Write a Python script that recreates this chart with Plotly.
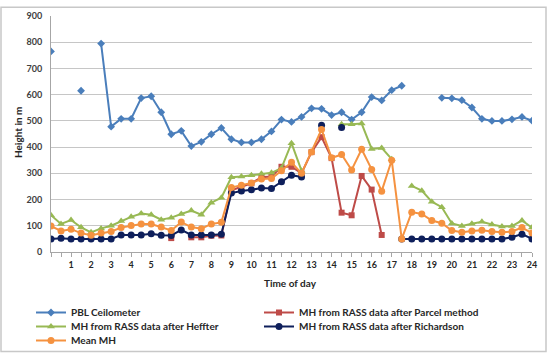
import plotly.graph_objects as go

# Time of day (half-hour steps, 0 .. 24)
hours = [i * 0.5 for i in range(49)]
tick_hours = list(range(1, 25))
tick_labels = [str(h) for h in tick_hours]
y_ticks = list(range(0, 1000, 100))

N = None
pbl_ceilometer = [765, N, N, 615, N, 795, 478, 508, 508, 587, 594, 533, 449, 462, 404, 420,
                  449, 473, 430, 418, 418, 430, 460, 505, 496, 515, 548, 546, 522, 533, 505,
                  533, 591, 578, 617, 634, N, N, N, 588, 586, 579, 551, 508, 500, 500, 506,
                  515, 501]
mh_parcel = [N, N, N, N, N, N, N, N, N, N, N, N, 53, N, 56, 56, 62, 63, 235, 248, 262, 285,
             288, 325, 325, 300, 381, 438, 358, 150, 140, 290, 238, 65, N, N, N, N, N, N,
             N, N, N, N, N, N, N, N, N]
mh_heffter = [140, 107, 122, 94, 75, 90, 100, 118, 134, 147, 142, 123, 131, 145, 158, 142,
              188, 207, 285, 288, 293, 298, 302, 320, 415, 310, N, N, N, 487, 487, 490, 393,
              397, 354, N, 252, 234, 192, 171, 109, 99, 108, 115, 105, 97, 99, 120, 93]
mh_richardson = [50, 52, 50, 50, 50, 50, 50, 65, 65, 65, 70, 64, 63, 84, 65, 65, 65, 68, 225,
                 233, 237, 244, 242, 268, 293, 286, N, 483, N, 475, N, N, N, N, N, 50, 50, 50,
                 50, 50, 50, 50, 50, 50, 50, 50, 56, 68, 50]
mean_mh = [99, 80, 87, 72, 64, 72, 78, 93, 101, 107, 107, 95, 82, 114, 95, 89, 107, 113, 246,
           255, 263, 278, 280, 310, 342, 300, 381, 467, 359, 372, 313, 392, 315, 232, 350, 50,
           152, 145, 120, 110, 82, 75, 80, 83, 78, 75, 78, 93, 72]

series = [
    ("PBL Ceilometer", pbl_ceilometer, "#4A7EBB", "diamond", 6, "legend"),
    ("MH from RASS data after Parcel method", mh_parcel, "#BE4B48", "square", 6, "legend"),
    ("MH from RASS data after Heffter", mh_heffter, "#98B954", "triangle-up", 7, "legend2"),
    ("MH from RASS data after Richardson", mh_richardson, "#0E1F5B", "circle", 7, "legend2"),
    ("Mean MH", mean_mh, "#F59240", "circle", 7, "legend3"),
]

FONT = "Lato, 'Open Sans', Arial, sans-serif"

fig = go.Figure()
for name, vals, color, sym, size, leg in series:
    fig.add_trace(go.Scatter(
        x=hours, y=vals, name=name, mode="lines+markers",
        line=dict(color=color, width=2),
        marker=dict(symbol=sym, size=size, color=color),
        connectgaps=False, legend=leg,
    ))

W, H = 547, 355
ml, mr, mt, mb = 51, 15, 10, 103
pw, ph = W - ml - mr, H - mt - mb

def px(xp):
    return (xp - ml) / pw

def py(yp):
    return (H - mb - yp) / ph

def legend_at(top_px):
    return dict(
        orientation="h", xref="container", yref="container",
        x=31 / W, y=1 - top_px / H, xanchor="left", yanchor="top",
        font=dict(family=FONT, size=10, color="#262626", weight="bold"),
        entrywidth=183, entrywidthmode="pixels", itemwidth=30,
        tracegroupgap=0, bgcolor="rgba(0,0,0,0)",
    )

fig.update_layout(
    width=W, height=H,
    margin=dict(l=ml, r=mr, t=mt, b=mb, pad=0),
    paper_bgcolor="white", plot_bgcolor="white",
    font=dict(family=FONT, size=10, color="#262626"),
    showlegend=True,
    legend=legend_at(298),
    legend2=legend_at(312),
    legend3=legend_at(326),
    xaxis=dict(
        range=[0, 24], tickmode="array", tickvals=tick_hours, ticktext=tick_labels,
        showgrid=False, zeroline=False, showline=True, linecolor="#a6a6a6", linewidth=1,
        ticks="outside", ticklen=4, tickcolor="#a6a6a6",
        minor=dict(dtick=0.5, tick0=0, ticks="outside", ticklen=4, tickcolor="#a6a6a6", showgrid=False),
        tickfont=dict(family=FONT, size=9, color="#262626", weight="bold"),
    ),
    yaxis=dict(
        range=[0, 900], tickmode="array", tickvals=y_ticks,
        showgrid=True, gridcolor="#c6c6c6", gridwidth=1, zeroline=False,
        showline=True, linecolor="#a6a6a6", linewidth=1, ticks="",
        tickfont=dict(family=FONT, size=9, color="#404040", weight="bold"),
        ticklabelstandoff=6,
    ),
    annotations=[
        dict(text="<b>Time of day</b>", x=px(290), y=py(284), xref="paper", yref="paper",
             xanchor="center", yanchor="middle",
             showarrow=False, font=dict(family=FONT, size=10, color="#262626")),
        dict(text="<b>Height in m</b>", x=px(18), y=py(130), xref="paper", yref="paper",
             xanchor="center", yanchor="middle",
             showarrow=False, textangle=-90, font=dict(family=FONT, size=10, color="#262626")),
    ],
    shapes=[
        dict(type="rect", xref="paper", yref="paper",
             x0=px(1), x1=px(546), y0=py(354), y1=py(1),
             line=dict(color="#c8c8c8", width=1.5), fillcolor="rgba(0,0,0,0)", layer="above"),
    ],
)

fig.write_html(
    "out.html",
    config={"displayModeBar": False},
    post_script="document.body.style.margin='0';document.body.style.overflow='hidden';",
)
